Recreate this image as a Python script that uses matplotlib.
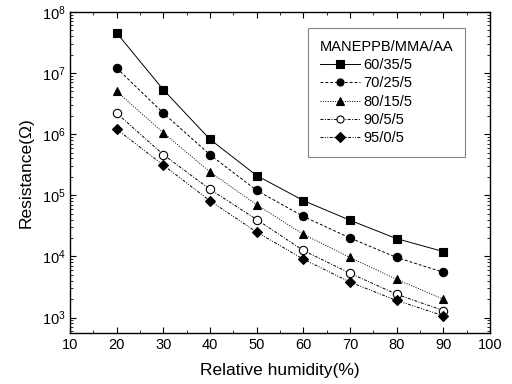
import matplotlib as mpl
mpl.use("Agg")
import matplotlib.pyplot as plt
from matplotlib.ticker import MultipleLocator, LogLocator, NullFormatter

mpl.rcParams.update({
    "font.family": "Liberation Sans",
    "mathtext.fontset": "custom",
    "mathtext.rm": "Liberation Sans",
    "mathtext.it": "Liberation Sans:italic",
    "font.size": 10,
    "axes.linewidth": 1.0,
})

# ── Data ──
rh = [20, 30, 40, 50, 60, 70, 80, 90]
labels = ["60/35/5", "70/25/5", "80/15/5", "90/5/5", "95/0/5"]
r_60_35 = [4.5e7, 5.3e6, 8.2e5, 2.1e5, 8.2e4, 3.9e4, 1.95e4, 1.2e4]
r_70_25 = [1.2e7, 2.2e6, 4.6e5, 1.2e5, 4.5e4, 2.0e4, 9.6e3, 5.5e3]
r_80_15 = [5.0e6, 1.05e6, 2.4e5, 7.0e4, 2.3e4, 9.6e3, 4.2e3, 2.0e3]
r_90_5 = [2.2e6, 4.6e5, 1.25e5, 4.0e4, 1.25e4, 5.3e3, 2.4e3, 1.3e3]
r_95_0 = [1.2e6, 3.1e5, 8.1e4, 2.5e4, 9.0e3, 3.8e3, 1.9e3, 1.07e3]

series = [r_60_35, r_70_25, r_80_15, r_90_5, r_95_0]
markers = ['s', 'o', '^', 'o', 'D']
faces = ['black', 'black', 'black', 'white', 'black']
styles = ['-', (0, (3, 2)), (0, (1, 1.5)), (0, (3, 1.5, 1, 1.5)), (0, (3, 1.5, 1, 1.5, 1, 1.5))]

fig = plt.figure(figsize=(5.12, 3.84), dpi=100)
ax = fig.add_axes([0.137, 0.133, 0.820, 0.836])

for vals, lab, mk, fc, ls in zip(series, labels, markers, faces, styles):
    ax.plot(rh, vals, linestyle=ls, color='black', linewidth=0.7,
            marker=mk, markersize=6 if mk != 'D' else 5.5,
            markerfacecolor=fc, markeredgecolor='black', markeredgewidth=0.8,
            label=lab)

ax.set_yscale('log')
ax.set_xlim(10, 100)
ax.set_ylim(560, 1e8)
ax.xaxis.set_major_locator(MultipleLocator(10))
ax.xaxis.set_minor_locator(MultipleLocator(5))
ax.yaxis.set_major_locator(LogLocator(base=10, numticks=10))
ax.yaxis.set_minor_locator(LogLocator(base=10, subs=range(2, 10), numticks=20))
ax.yaxis.set_minor_formatter(NullFormatter())
ax.tick_params(which='both', direction='in', top=True, right=True)
ax.tick_params(which='major', length=4, width=0.8, labelsize=10.5)
ax.tick_params(which='minor', length=2, width=0.6)

ax.set_xlabel('Relative humidity(%)', fontsize=12.5, labelpad=8)
ax.set_ylabel('Resistance(Ω)', fontsize=12.5, labelpad=6)

leg = ax.legend(title='MANEPPB/MMA/AA', loc='upper right', bbox_to_anchor=(0.940, 0.950),
                borderaxespad=0, fontsize=10.5, title_fontsize=10.5, frameon=True,
                fancybox=False, handlelength=2.8, handletextpad=0.2, labelspacing=0.3,
                borderpad=0.8, markerscale=0.85)
leg.get_frame().set_edgecolor('#666666')
leg.get_frame().set_linewidth(0.8)
leg._legend_box.align = "left"

fig.savefig('out.png', dpi=100, facecolor='white')
